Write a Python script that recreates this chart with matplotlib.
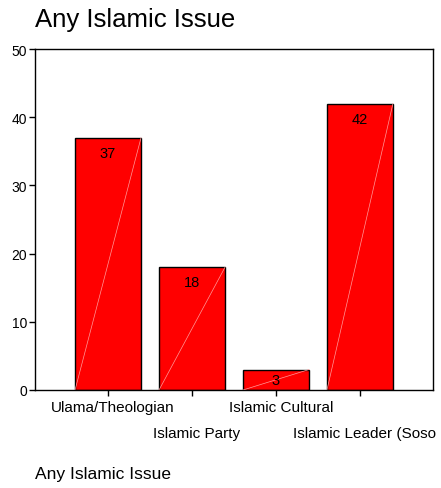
import matplotlib
matplotlib.use("Agg")
import matplotlib.pyplot as plt

categories = ["Ulama/Theologian", "Islamic Party", "Islamic Cultural", "Islamic Leader (Soso"]
counts = [37, 18, 3, 42]
y_ticks = [0, 10, 20, 30, 40, 50]

plt.rcParams["font.family"] = ["Liberation Sans", "DejaVu Sans"]

fig = plt.figure(figsize=(4.41, 4.89), dpi=100)
ax = fig.add_axes([35 / 441, 1 - 391 / 489, 398 / 441, 341 / 489])

x = list(range(len(categories)))
width = 0.786
ax.bar(x, counts, width=width, color="#ff0000", edgecolor="black", linewidth=1.0, zorder=2)

ax.set_xlim(-0.87, len(categories) - 1 + 0.87)
ax.set_ylim(0, 50)

# faint diagonal highlight across each bar
for xi, v in zip(x, counts):
    ax.plot([xi - width / 2, xi + width / 2], [0, v], color="#ff9a9a", linewidth=0.5, zorder=3)

# value labels just inside the top of each bar (centred for short bars)
for xi, v in zip(x, counts):
    bar_px = ax.transData.transform((0, v))[1] - ax.transData.transform((0, 0))[1]
    off = -min(15, bar_px / 2)
    ax.annotate(str(v), (xi, v), xytext=(0, off), textcoords="offset pixels",
                ha="center", va="center", fontsize=10.5, color="black", zorder=4)

ax.set_yticks(y_ticks)
ax.set_yticklabels([str(t) for t in y_ticks], fontsize=10)
ax.set_xticks(x)
ax.set_xticklabels([])
ax.tick_params(axis="both", direction="out", length=4, width=1, colors="black")
ax.tick_params(axis="y", pad=1.5)

for i, lab in enumerate(categories):
    yoff = -17 if i % 2 == 0 else -43
    ax.annotate(lab, (i, 0), xytext=(5, yoff), textcoords="offset pixels",
                ha="center", va="center", fontsize=11, annotation_clip=False)

for s in ax.spines.values():
    s.set_linewidth(1.0)

fig.text(35 / 441, 1 - 20 / 489, "Any Islamic Issue", fontsize=18.5, ha="left", va="center")
fig.text(35 / 441, 1 - 475 / 489, "Any Islamic Issue", fontsize=12.5, ha="left", va="center")

fig.savefig("out.png", dpi=100)
